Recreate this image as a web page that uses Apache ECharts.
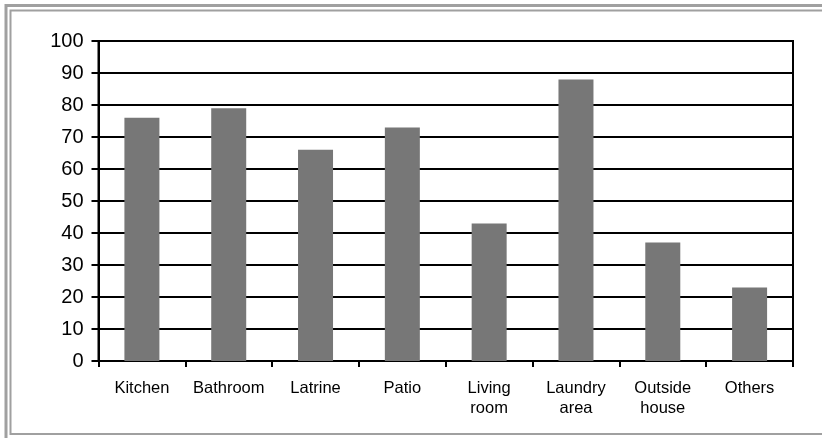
<!DOCTYPE html>
<html>
<head>
<meta charset="utf-8">
<script src="https://cdn.jsdelivr.net/npm/echarts@6/dist/echarts.min.js"></script>
<style>
  html, body { margin: 0; padding: 0; background: #fff; }
  #chart { width: 822px; height: 438px; }
</style>
</head>
<body>
<div id="chart"></div>
<script>
// categories and values
var categories = ['Kitchen', 'Bathroom', 'Latrine', 'Patio', 'Living\nroom', 'Laundry\narea', 'Outside\nhouse', 'Others'];
var values = [76, 79, 66, 73, 43, 88, 37, 23];
var yTicks = [0, 10, 20, 30, 40, 50, 60, 70, 80, 90, 100];

var chart = echarts.init(document.getElementById('chart'));

var option = {
    backgroundColor: '#fff',
    animation: false,
    textStyle: { fontFamily: 'Liberation Sans, Arial, sans-serif' },
    graphic: [
        // double grey frame, cut off on the right
        { type: 'rect', shape: { x: 6, y: 5.5, width: 900, height: 900 },
          style: { fill: 'none', stroke: '#a0a0a0', lineWidth: 3 } },
        { type: 'rect', shape: { x: 10.5, y: 10.5, width: 900, height: 423.5 },
          style: { fill: 'none', stroke: '#a0a0a0', lineWidth: 2 } }
    ],
    grid: {
        left: 98.5,
        right: 29,
        top: 41,
        bottom: 77,
        show: true,
        borderColor: '#000',
        borderWidth: 2,
        backgroundColor: 'transparent'
    },
    xAxis: {
        type: 'category',
        data: categories,
        axisLine: { lineStyle: { color: '#000', width: 2 } },
        axisTick: { show: true, length: 6, lineStyle: { color: '#000', width: 2 } },
        axisLabel: {
            color: '#000',
            fontSize: 16.5,
            lineHeight: 20,
            margin: 17,
            interval: 0
        }
    },
    yAxis: {
        type: 'value',
        min: yTicks[0],
        max: yTicks[yTicks.length - 1],
        interval: 10,
        axisLine: { show: true, lineStyle: { color: '#000', width: 2 } },
        axisTick: { show: true, length: 7, lineStyle: { color: '#000', width: 2 } },
        axisLabel: { color: '#000', fontSize: 20, margin: 15 },
        splitLine: { show: true, lineStyle: { color: '#000', width: 2 } }
    },
    series: [
        {
            type: 'bar',
            data: values,
            barWidth: 35,
            itemStyle: { color: '#777777' }
        }
    ]
};

chart.setOption(option);
</script>
</body>
</html>
